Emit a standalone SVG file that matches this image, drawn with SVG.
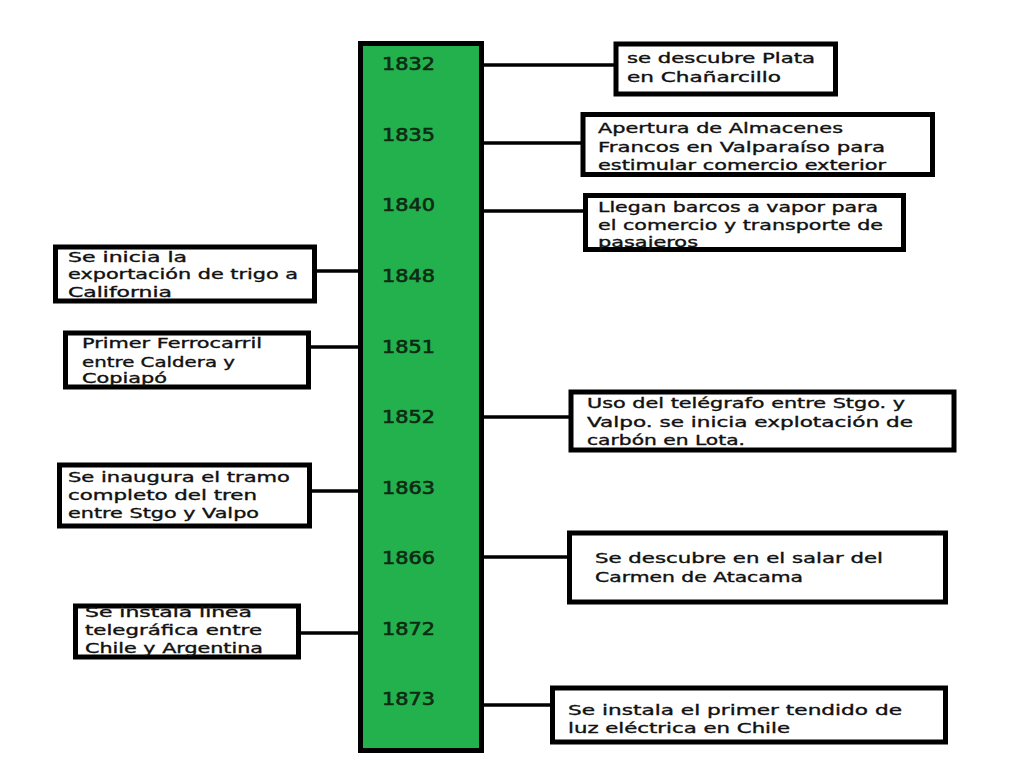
<svg xmlns="http://www.w3.org/2000/svg" width="1024" height="768" viewBox="0 0 1024 768">
<style>
.box{fill:#fff;stroke:#000;stroke-width:5}
.bar{fill:#22b14c;stroke:#000;stroke-width:5}
.t{font-family:"DejaVu Sans","Liberation Sans",sans-serif;font-size:14px;fill:#111;stroke:#111;stroke-width:0.35}
.y{font-family:"DejaVu Sans","Liberation Sans",sans-serif;font-size:17px;fill:#0e2a14;stroke:#0e2a14;stroke-width:0.6}
.c{stroke:#000;stroke-width:3.5;fill:none}
</style>
<rect width="1024" height="768" fill="#fff"/>
<g id="connectors">
<line class="c" x1="484" y1="65" x2="616" y2="65"/>
<line class="c" x1="484" y1="143" x2="583" y2="143"/>
<line class="c" x1="484" y1="211" x2="586" y2="211"/>
<line class="c" x1="315" y1="271" x2="364" y2="271"/>
<line class="c" x1="309" y1="347" x2="361" y2="347"/>
<line class="c" x1="484" y1="417" x2="571" y2="417"/>
<line class="c" x1="310" y1="491" x2="364" y2="491"/>
<line class="c" x1="484" y1="557" x2="570" y2="557"/>
<line class="c" x1="299" y1="633" x2="361" y2="633"/>
<line class="c" x1="484" y1="705" x2="553" y2="705"/>
</g>
<g id="timeline">
<rect class="bar" x="360.5" y="43.5" width="121" height="707"/>
<text class="y" x="382" y="70" textLength="53" lengthAdjust="spacingAndGlyphs">1832</text>
<text class="y" x="382" y="141" textLength="53" lengthAdjust="spacingAndGlyphs">1835</text>
<text class="y" x="382" y="211" textLength="53" lengthAdjust="spacingAndGlyphs">1840</text>
<text class="y" x="382" y="282" textLength="53" lengthAdjust="spacingAndGlyphs">1848</text>
<text class="y" x="382" y="353" textLength="53" lengthAdjust="spacingAndGlyphs">1851</text>
<text class="y" x="382" y="423" textLength="53" lengthAdjust="spacingAndGlyphs">1852</text>
<text class="y" x="382" y="494" textLength="53" lengthAdjust="spacingAndGlyphs">1863</text>
<text class="y" x="382" y="564" textLength="53" lengthAdjust="spacingAndGlyphs">1866</text>
<text class="y" x="382" y="635" textLength="53" lengthAdjust="spacingAndGlyphs">1872</text>
<text class="y" x="382" y="705" textLength="53" lengthAdjust="spacingAndGlyphs">1873</text>
</g>
<g id="e1832">
<rect class="box" x="616" y="44" width="219.5" height="50"/>
<text class="t" x="627" y="63" textLength="188" lengthAdjust="spacingAndGlyphs">se descubre Plata</text>
<text class="t" x="627" y="82" textLength="154" lengthAdjust="spacingAndGlyphs">en Chañarcillo</text>
</g>
<g id="e1835">
<rect class="box" x="583" y="114.5" width="349.5" height="60"/>
<text class="t" x="598" y="133" textLength="245" lengthAdjust="spacingAndGlyphs">Apertura de Almacenes</text>
<text class="t" x="598" y="152" textLength="287" lengthAdjust="spacingAndGlyphs">Francos en Valparaíso para</text>
<text class="t" x="598" y="170" textLength="288" lengthAdjust="spacingAndGlyphs">estimular comercio exterior</text>
</g>
<g id="e1840">
<rect class="box" x="585.5" y="195.5" width="318" height="54"/>
<text class="t" x="598" y="212" textLength="280" lengthAdjust="spacingAndGlyphs">Llegan barcos a vapor para</text>
<text class="t" x="598" y="230" textLength="285" lengthAdjust="spacingAndGlyphs">el comercio y transporte de</text>
<text class="t" x="598" y="247" textLength="100" lengthAdjust="spacingAndGlyphs">pasajeros</text>
</g>
<g id="e1848">
<rect class="box" x="55.5" y="247" width="259" height="54"/>
<text class="t" x="68" y="262" textLength="119" lengthAdjust="spacingAndGlyphs">Se inicia la</text>
<text class="t" x="68" y="279" textLength="230" lengthAdjust="spacingAndGlyphs">exportación de trigo a</text>
<text class="t" x="68" y="297" textLength="104" lengthAdjust="spacingAndGlyphs">California</text>
</g>
<g id="e1851">
<rect class="box" x="65.5" y="333" width="243" height="54"/>
<text class="t" x="82" y="348" textLength="180" lengthAdjust="spacingAndGlyphs">Primer Ferrocarril</text>
<text class="t" x="82" y="367" textLength="153" lengthAdjust="spacingAndGlyphs">entre Caldera y</text>
<text class="t" x="82" y="383" textLength="85" lengthAdjust="spacingAndGlyphs">Copiapó</text>
</g>
<g id="e1852">
<rect class="box" x="571" y="392" width="383" height="58"/>
<text class="t" x="587" y="408" textLength="318" lengthAdjust="spacingAndGlyphs">Uso del telégrafo entre Stgo. y</text>
<text class="t" x="587" y="427" textLength="326" lengthAdjust="spacingAndGlyphs">Valpo. se inicia explotación de</text>
<text class="t" x="587" y="445" textLength="158" lengthAdjust="spacingAndGlyphs">carbón en Lota.</text>
</g>
<g id="e1863">
<rect class="box" x="59.5" y="465" width="250" height="61"/>
<text class="t" x="68" y="482" textLength="222" lengthAdjust="spacingAndGlyphs">Se inaugura el tramo</text>
<text class="t" x="68" y="500" textLength="189" lengthAdjust="spacingAndGlyphs">completo del tren</text>
<text class="t" x="68" y="518" textLength="191" lengthAdjust="spacingAndGlyphs">entre Stgo y Valpo</text>
</g>
<g id="e1866">
<rect class="box" x="569.5" y="533" width="376" height="69"/>
<text class="t" x="595" y="563" textLength="288" lengthAdjust="spacingAndGlyphs">Se descubre en el salar del</text>
<text class="t" x="595" y="582" textLength="208" lengthAdjust="spacingAndGlyphs">Carmen de Atacama</text>
</g>
<g id="e1872">
<rect class="box" x="75.5" y="606" width="223" height="51"/>
<text class="t" x="85" y="617" textLength="167" lengthAdjust="spacingAndGlyphs">Se instala línea</text>
<text class="t" x="85" y="635" textLength="177" lengthAdjust="spacingAndGlyphs">telegráfica entre</text>
<text class="t" x="85" y="653" textLength="178" lengthAdjust="spacingAndGlyphs">Chile y Argentina</text>
</g>
<g id="e1873">
<rect class="box" x="552.5" y="688" width="393" height="54"/>
<text class="t" x="568" y="715" textLength="334" lengthAdjust="spacingAndGlyphs">Se instala el primer tendido de</text>
<text class="t" x="568" y="733" textLength="222" lengthAdjust="spacingAndGlyphs">luz eléctrica en Chile</text>
</g>
</svg>
